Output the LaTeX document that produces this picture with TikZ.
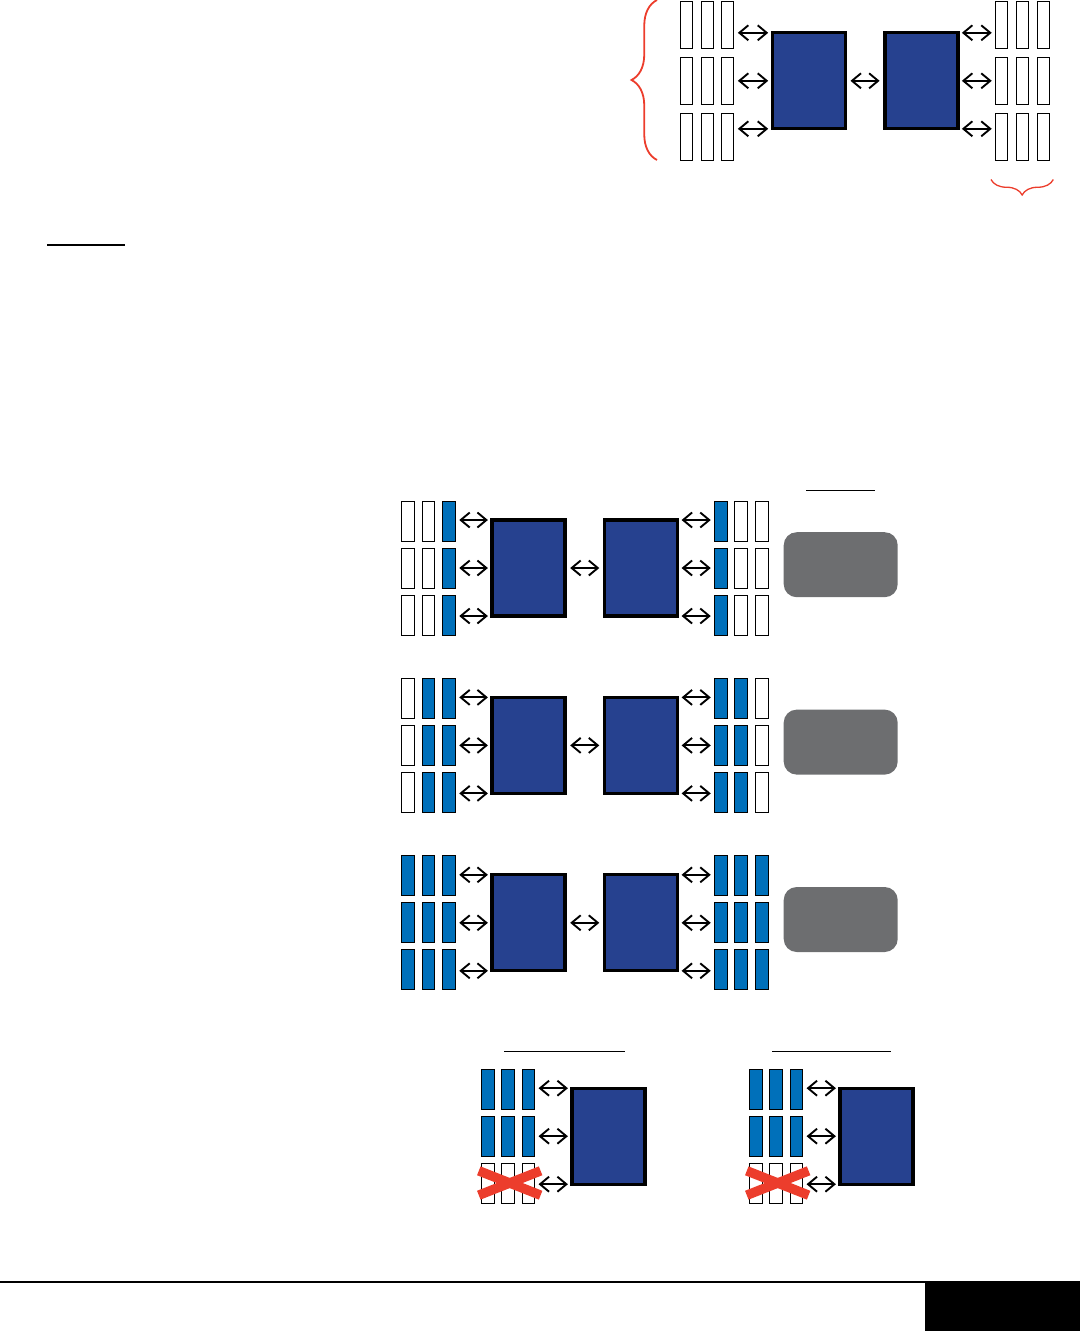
\documentclass[tikz,border=0pt]{standalone}
\usetikzlibrary{arrows.meta, positioning, decorations.pathreplacing}

\definecolor{cpublue}{HTML}{26418F}
\definecolor{dimmblue}{HTML}{0070BA}
\definecolor{panelgray}{HTML}{6D6E70}
\definecolor{markred}{HTML}{EC3D2C}

\begin{document}
\begin{tikzpicture}[x=1pt, y=-1pt, >={Straight Barb[length=9pt, width=15pt]}]
    \tikzstyle{cpubox}=[draw, line width=3.3pt, fill=cpublue, minimum width=73pt, minimum height=96pt, inner sep=0pt, outer sep=0pt, rectangle]
    \tikzstyle{dimmbox}=[draw, line width=0.9pt, minimum width=12.5pt, minimum height=40.1pt, inner sep=0pt, outer sep=0pt, rectangle]
    \tikzstyle{tallbox}=[dimmbox, minimum width=12.1pt, minimum height=47.1pt]
    \tikzstyle{ctrlbox}=[fill=panelgray, rounded corners=13pt, minimum width=114pt, minimum height=65pt, inner sep=0pt, rectangle]
    \tikzstyle{link}=[<->, line width=1.9pt, shorten <=4pt, shorten >=4pt]
    \tikzstyle{cpulink}=[link, shorten <=5.3pt, shorten >=5.3pt]
    \tikzstyle{rule}=[line width=1.2pt]
    \tikzstyle{cross}=[draw=markred, line width=9.5pt]
    \tikzstyle{bracket}=[draw=markred, line width=1.8pt, decorate]

    \useasboundingbox (0, 0) rectangle (1080, 1331);

    % Full system
    \node[cpubox] (t_cpu1) at (808.7, 80.8) {};
    \node[cpubox, right=39.7pt of t_cpu1] (t_cpu2) {};
    \foreach \r/\y in {1/24.5, 2/80.5, 3/136.5} {
        \foreach \c/\x in {1/686.8, 2/707, 3/727.8}
            \node[tallbox] (t_l\r\c) at (\x, \y) {};
        \foreach \c/\x in {1/1001.8, 2/1022, 3/1043}
            \node[tallbox] (t_r\r\c) at (\x, \y) {};
    }
    \foreach \r/\a/\b in {1/north west/north east, 2/west/east, 3/south west/south east} {
        \draw[link] (t_l\r3.east |- t_cpu1.\a) -- (t_cpu1.\a);
        \draw[link] (t_cpu2.\b) -- (t_r\r1.west |- t_cpu2.\b);
    }
    \draw[cpulink] (t_cpu1.east) -- (t_cpu2.west);

    \draw[bracket, decoration={brace, amplitude=25.5pt}] (657, 160) -- (657, 0);
    \draw[bracket, line width=1.3pt, decoration={brace, amplitude=15.5pt}] (1053.3, 179.5) -- (991, 179.5);

    \draw[rule] (47, 245) -- (125, 245);

    % Populations
    \draw[rule, line width=1pt] (806, 490) -- (874.7, 490);
    \foreach \p/\y/\n in {1/568/1, 2/745.4/2, 3/922.8/3} {
        \node[cpubox] (m\p_cpu1) at (528.4, \y) {};
        \node[cpubox, right=39.7pt of m\p_cpu1] (m\p_cpu2) {};
        \node[ctrlbox] (m\p_ctrl) at (840.7, \y-3.3) {};
        \foreach \r/\dy in {1/-47, 2/0, 3/47} {
            \foreach \c/\x in {1/408, 2/428.2, 3/449} {
                \ifnum\c>\numexpr3-\n\relax \def\dfill{dimmblue}\else \def\dfill{white}\fi
                \node[dimmbox, fill=\dfill] (m\p_l\r\c) at (\x, \y+\dy) {};
            }
            \foreach \c/\x in {1/721, 2/741, 3/762} {
                \ifnum\c>\n \def\dfill{white}\else \def\dfill{dimmblue}\fi
                \node[dimmbox, fill=\dfill] (m\p_r\r\c) at (\x, \y+\dy) {};
            }
        }
        \foreach \r/\a/\b in {1/north west/north east, 2/west/east, 3/south west/south east} {
            \draw[link] (m\p_l\r3.east |- m\p_cpu1.\a) -- (m\p_cpu1.\a);
            \draw[link] (m\p_cpu2.\b) -- (m\p_r\r1.west |- m\p_cpu2.\b);
        }
        \draw[cpulink] (m\p_cpu1.east) -- (m\p_cpu2.west);
    }

    % Failed channel
    \foreach \g/\dx in {1/0, 2/268} {
        \draw[rule, line width=1pt] (504.3+\dx, 1051.3) -- (625+\dx-2*\g+2, 1051.3);
        \node[cpubox] (b\g_cpu) at (608.4+\dx, 1136.2) {};
        \foreach \r/\dy in {1/-46.7, 2/0, 3/46.8} {
            \foreach \c/\x in {1/488, 2/508, 3/528.3} {
                \ifnum\r<3 \def\dfill{dimmblue}\else \def\dfill{white}\fi
                \node[dimmbox, fill=\dfill] (b\g_d\r\c) at (\x+\dx, 1136.2+\dy) {};
            }
        }
        \foreach \r/\a in {1/north west, 2/west, 3/south west}
            \draw[link] (b\g_d\r3.east |- b\g_cpu.\a) -- (b\g_cpu.\a);
        \draw[cross] ([shift={(-29.2,-12.2)}]b\g_d32.center) -- ([shift={(32.6,12.2)}]b\g_d32.center);
        \draw[cross] ([shift={(-29.2,12.2)}]b\g_d32.center) -- ([shift={(32.6,-12.2)}]b\g_d32.center);
    }

    % Footer
    \draw[line width=2pt] (0, 1282) -- (1080, 1282);
    \fill (925, 1281) rectangle (1080, 1331);
\end{tikzpicture}
\end{document}
